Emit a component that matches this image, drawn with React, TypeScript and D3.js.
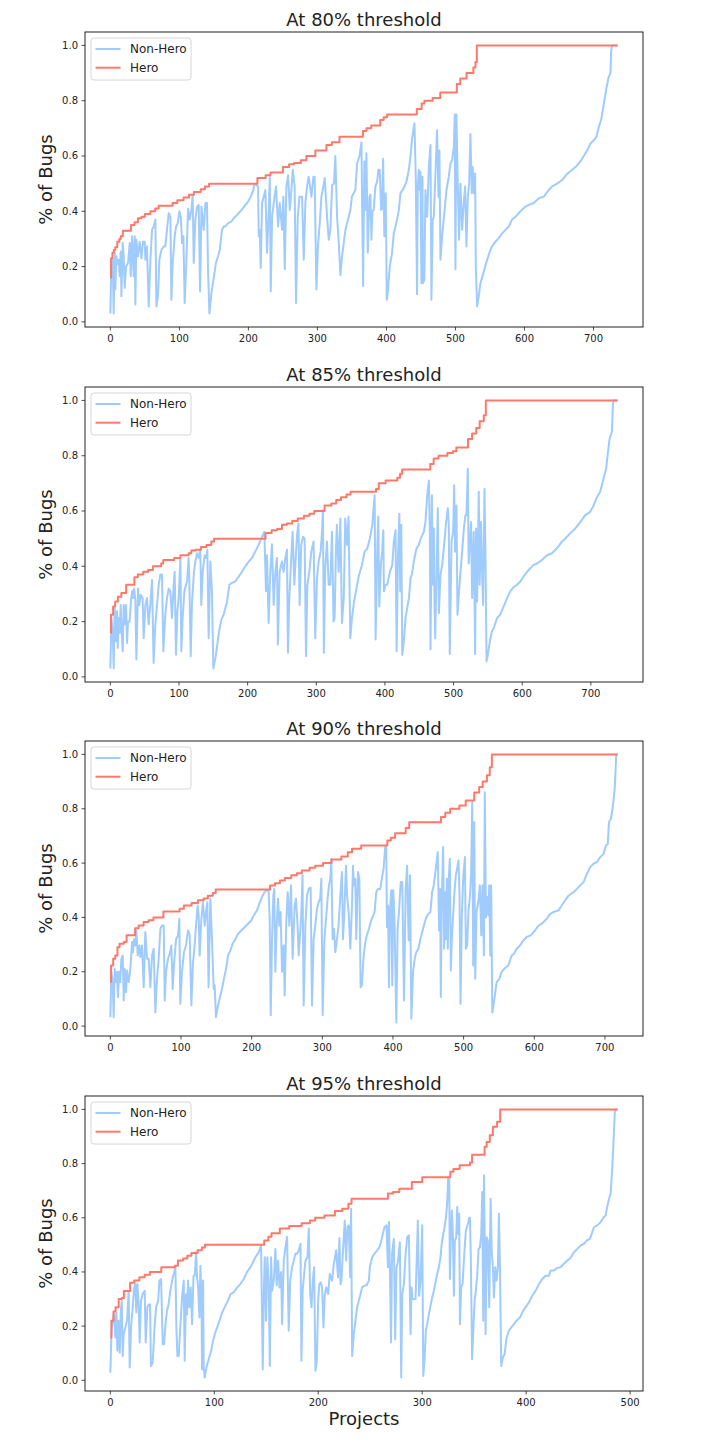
import React from 'react';
import * as d3 from 'd3';

type Pt = [number, number];

// ---- data (x = project index, y = share of bugs) ----
const thresholds = ['80%', '85%', '90%', '95%'];
const seriesNames = ['Non-Hero', 'Hero'];

const nonHero80: Pt[] = [
  [0,0.03],[1.4,0.21],[3.4,0.225],[4.8,0.03],[6.3,0.25],[7.2,0.117],[8.7,0.237],[10.1,0.21],[12,0.225],[13.5,0.165],
  [15,0.255],[16,0.093],[17.9,0.285],[19.3,0.237],[20.8,0.123],[22.7,0.2],[25.6,0.213],[28,0.285],[29.5,0.165],[31.4,0.31],
  [33.8,0.165],[35.3,0.31],[36.2,0.063],[37.7,0.297],[40,0.237],[42.5,0.29],[45,0.23],[47.3,0.29],[49.8,0.29],[50.7,0.225],
  [53,0.273],[55.6,0.056],[58,0.225],[60.4,0.333],[62.8,0.345],[65.2,0.37],[66.7,0.056],[69,0.093],[71,0.225],[74,0.26],
  [77.3,0.273],[79.7,0.273],[82,0.333],[84.5,0.393],[87,0.38],[88.4,0.08],[90.3,0.213],[93.2,0.31],[95.2,0.345],[97.6,0.357],
  [100,0.4],[102,0.38],[104,0.285],[105.8,0.31],[107.7,0.068],[110,0.213],[112.6,0.41],[115,0.37],[117.4,0.405],[119.3,0.46],
  [120.8,0.213],[123.2,0.37],[125.6,0.417],[128,0.423],[130,0.11],[132,0.417],[135.3,0.333],[137.7,0.43],[140,0.43],[141.5,0.19],
  [143.5,0.03],[146.4,0.105],[149.8,0.16],[153,0.213],[156,0.237],[158.5,0.26],[161.8,0.333],[164.3,0.345],[166.7,0.345],[170.5,0.357],
  [175.4,0.363],[178.7,0.375],[183.6,0.387],[188.4,0.4],[194.7,0.42],[199.5,0.435],[203.4,0.453],[206.8,0.474],[208.7,0.5],[214,0.49],
  [215,0.31],[216.4,0.333],[217.9,0.195],[219.8,0.43],[222.2,0.453],[224.6,0.477],[227,0.25],[229.5,0.405],[231,0.525],[232.4,0.11],
  [234.3,0.38],[236.7,0.43],[240,0.49],[243,0.345],[245.4,0.43],[248.8,0.333],[250.7,0.453],[252.7,0.19],[255,0.49],[257.5,0.53],
  [260,0.405],[262.3,0.477],[264.3,0.55],[267,0.49],[269,0.068],[271.5,0.38],[274,0.453],[277.8,0.453],[280.2,0.225],[282.6,0.43],
  [285,0.49],[287.4,0.525],[291.3,0.453],[294.2,0.525],[296,0.525],[298.5,0.117],[301,0.285],[303.4,0.357],[305.8,0.453],[307.7,0.477],
  [310.6,0.52],[314,0.38],[316.4,0.297],[318.8,0.333],[321.3,0.495],[324,0.5],[326,0.6],[328.5,0.38],[331,0.285],[333.3,0.17],
  [335.7,0.237],[340.6,0.333],[345.4,0.38],[347.8,0.405],[350,0.453],[355,0.477],[357.5,0.573],[361,0.6],[363.8,0.65],[366.2,0.13],
  [368,0.58],[369.6,0.405],[371,0.61],[373,0.25],[375.4,0.453],[376.8,0.46],[378.3,0.297],[379.7,0.4],[381.6,0.405],[384,0.49],
  [386.5,0.507],[388.4,0.55],[390.3,0.55],[392.3,0.405],[393.7,0.41],[395.2,0.59],[397,0.31],[399,0.465],[400.5,0.08],[402.4,0.117],
  [404.8,0.2],[408.2,0.25],[410.6,0.32],[413,0.345],[415.5,0.37],[418,0.405],[420.3,0.465],[425,0.483],[429,0.507],[432.4,0.55],
  [434.8,0.597],[437.2,0.663],[440.6,0.718],[442.5,0.525],[444.4,0.1],[445.4,0.49],[446.9,0.55],[448.3,0.477],[449.3,0.543],[450.7,0.14],
  [452.2,0.525],[453,0.14],[455,0.153],[456.5,0.477],[459,0.38],[461.4,0.56],[463.8,0.64],[465.2,0.08],[467.1,0.37],[468.6,0.38],
  [471,0.537],[473.4,0.693],[475.4,0.453],[476.8,0.62],[478.3,0.225],[480.7,0.31],[483,0.37],[487,0.477],[490.3,0.525],[492.8,0.573],
  [495.2,0.585],[497.6,0.633],[499,0.75],[500,0.19],[501.4,0.75],[503.4,0.5],[505.3,0.297],[507.2,0.5],[509.7,0.333],[512,0.43],
  [514,0.49],[516,0.273],[517.9,0.453],[519.8,0.5],[521.7,0.68],[523.7,0.465],[525,0.56],[527,0.465],[528.5,0.537],[529.5,0.2],
  [531.4,0.056],[533.8,0.093],[536.2,0.14],[538.6,0.16],[542,0.19],[545.9,0.225],[550.7,0.26],[553,0.273],[558,0.29],[562.8,0.303],
  [567.6,0.32],[572.5,0.333],[577.3,0.345],[582,0.37],[587,0.38],[594,0.4],[601.4,0.417],[606.3,0.423],[613.5,0.43],[620.8,0.447],
  [628,0.453],[635.3,0.477],[640,0.49],[647.3,0.5],[654.6,0.513],[661.8,0.535],[669,0.55],[674,0.56],[681,0.58],[686,0.6],
  [690.8,0.62],[695.6,0.645],[700.5,0.657],[704.3,0.67],[707.7,0.705],[711,0.73],[715,0.79],[718.8,0.845],[722,0.886],[724.6,0.9],
  [725.6,0.98],[727,1.0],[735,1.0],
];

const hero80: Pt[] = [
  [0,0.16],[1,0.23],[3,0.25],[5,0.26],[7,0.27],[10,0.29],[13,0.3],[15,0.31],[18,0.33],[30,0.35],[35,0.36],[40,0.375],
  [45,0.38],[50,0.39],[58,0.4],[65,0.41],[70,0.42],[90,0.43],[97,0.44],[106,0.45],[114,0.46],[121,0.47],[131,0.48],[137,0.49],
  [143,0.5],[213,0.52],[225,0.53],[232,0.54],[250,0.56],[259,0.57],[266,0.575],[276,0.585],[284,0.6],[297,0.62],[313,0.64],
  [321,0.65],[332,0.67],[366,0.69],[371,0.7],[378,0.71],[391,0.73],[396,0.74],[401,0.75],[444,0.77],[451,0.79],[455,0.8],
  [467,0.81],[478,0.83],[502,0.86],[507,0.88],[516,0.9],[526,0.92],[529,0.94],[531,1.0],[735,1.0],
];

const nonHero85: Pt[] = [
  [0,0.03],[1.5,0.213],[3.4,0.165],[4.9,0.03],[6.3,0.25],[8.3,0.13],[9.7,0.237],[10.7,0.105],[12,0.213],[13.6,0.16],
  [15,0.26],[16,0.19],[18,0.093],[19.4,0.26],[20.9,0.19],[22.8,0.26],[24.3,0.123],[25.7,0.2],[28,0.2],[30,0.273],
  [31.6,0.31],[33,0.285],[34.5,0.32],[36.4,0.28],[37.9,0.063],[40.3,0.32],[42.2,0.26],[44.2,0.297],[47,0.285],[48.5,0.14],
  [51,0.26],[53.4,0.285],[55.8,0.19],[58.3,0.267],[60.7,0.35],[63,0.05],[65.5,0.19],[68,0.26],[70.4,0.333],[72.8,0.37],
  [75.2,0.37],[77.2,0.093],[80,0.225],[82.5,0.285],[85,0.32],[87.4,0.31],[89.8,0.213],[92.2,0.333],[93.7,0.38],[95.6,0.08],
  [97.6,0.237],[99.5,0.285],[102,0.427],[103.4,0.093],[105.3,0.213],[107.8,0.31],[110.2,0.333],[111.7,0.345],[114,0.43],[115,0.357],
  [117,0.075],[119,0.273],[121.8,0.38],[123.8,0.417],[126.2,0.447],[128.6,0.43],[131,0.46],[132.5,0.26],[134.5,0.38],[137.4,0.44],
  [139.8,0.43],[141.3,0.46],[143.2,0.14],[145.6,0.417],[148,0.31],[150,0.03],[153,0.068],[155.8,0.117],[158.7,0.17],[161.7,0.207],
  [165,0.225],[170,0.273],[173.3,0.333],[177,0.34],[182,0.345],[187,0.363],[191.7,0.38],[196.6,0.4],[201.5,0.417],[206.3,0.43],
  [211,0.453],[216,0.477],[221,0.507],[224.3,0.525],[226.7,0.31],[228.2,0.44],[230.6,0.195],[233,0.38],[235.4,0.48],[237.9,0.26],
  [240.3,0.38],[242.7,0.43],[244,0.117],[246.6,0.38],[250,0.417],[252.4,0.38],[254.9,0.43],[257.3,0.46],[258.7,0.087],[260.7,0.285],
  [263,0.405],[265.5,0.525],[268,0.333],[270,0.43],[272,0.513],[274,0.555],[275.7,0.26],[278,0.477],[280.6,0.507],[283,0.5],
  [285,0.075],[287,0.333],[289.8,0.38],[292.7,0.453],[296,0.49],[298.5,0.14],[301,0.357],[303.4,0.417],[306.3,0.453],[308.3,0.525],
  [309.7,0.603],[311,0.087],[313,0.393],[315.5,0.49],[318,0.333],[320.4,0.333],[322.8,0.525],[325.2,0.2],[326.7,0.213],[328.6,0.453],
  [330,0.55],[332.5,0.38],[335,0.573],[337.4,0.195],[340,0.285],[342.2,0.573],[344.7,0.477],[347,0.58],[349.5,0.14],[352,0.213],
  [355,0.273],[357.8,0.31],[361.7,0.363],[366.5,0.405],[370.4,0.453],[374.3,0.465],[378,0.5],[381.6,0.55],[385,0.657],[386.4,0.135],
  [389,0.477],[390.3,0.58],[391.8,0.255],[394,0.405],[396,0.453],[397.6,0.53],[398.5,0.31],[401,0.333],[403.4,0.333],[407.3,0.38],
  [410.7,0.405],[413,0.49],[415.5,0.53],[417,0.093],[419,0.43],[421,0.59],[422.3,0.31],[423.8,0.55],[425.2,0.08],[427.6,0.13],
  [430,0.213],[432.5,0.25],[435,0.285],[437.3,0.357],[439.7,0.375],[442,0.417],[446,0.465],[449.4,0.477],[452,0.5],[456.7,0.525],
  [459,0.56],[461.6,0.657],[464,0.71],[465.4,0.525],[466.4,0.1],[468.4,0.657],[469.8,0.333],[471.3,0.537],[472.2,0.26],[473.2,0.14],
  [475,0.357],[477,0.61],[478.5,0.23],[481,0.37],[483.4,0.405],[485.8,0.465],[488.7,0.55],[491.6,0.61],[493,0.55],[494.5,0.083],
  [497,0.49],[499.4,0.525],[500.8,0.693],[502.3,0.453],[504.2,0.62],[505.7,0.225],[507.6,0.297],[510,0.38],[512.5,0.453],[515,0.537],
  [517.3,0.585],[518.8,0.585],[520.7,0.753],[522,0.41],[523.6,0.477],[525.5,0.56],[527,0.285],[529.4,0.525],[531.4,0.083],[532.8,0.537],
  [534.3,0.273],[536.7,0.67],[538,0.333],[540,0.56],[541.5,0.38],[543,0.26],[545,0.68],[546.4,0.453],[548,0.056],[549.8,0.08],
  [553.7,0.14],[556,0.165],[558.5,0.177],[563.4,0.213],[568,0.225],[573,0.255],[578,0.285],[582.7,0.31],[587.6,0.325],[592.4,0.333],
  [597.3,0.345],[602,0.363],[607,0.38],[611.8,0.393],[616.7,0.405],[621.5,0.41],[628.8,0.423],[636,0.44],[643.3,0.447],[650.6,0.465],
  [658,0.49],[662.7,0.5],[670,0.52],[677.3,0.537],[684.5,0.56],[691.8,0.585],[699,0.597],[704,0.62],[708.8,0.65],[713.6,0.67],
  [718.5,0.718],[722.3,0.753],[724.3,0.8],[727.2,0.86],[730.6,0.886],[732,0.98],[733,1.0],[739,1.0],
];

const hero85: Pt[] = [
  [0,0.16],[1,0.225],[4,0.255],[7,0.273],[11,0.29],[16,0.303],[23,0.333],[35,0.36],[40,0.37],[48,0.38],[55,0.387],[62,0.4],
  [74,0.41],[77,0.423],[93,0.43],[102,0.44],[114,0.447],[118,0.457],[124,0.46],[132,0.47],[140,0.477],[147,0.49],[151,0.5],
  [226,0.52],[235,0.53],[243,0.535],[250,0.55],[257,0.555],[265,0.564],[273,0.573],[282,0.583],[290,0.59],[297,0.6],[312,0.62],
  [322,0.627],[329,0.64],[336,0.65],[344,0.66],[350,0.67],[387,0.68],[391,0.7],[401,0.71],[418,0.72],[422,0.735],[425,0.75],
  [466,0.77],[471,0.79],[478,0.8],[491,0.81],[499,0.816],[504,0.83],[521,0.86],[527,0.88],[533,0.9],[538,0.925],[544,0.946],
  [547,1.0],[739,1.0],
];

const nonHero90: Pt[] = [
  [0,0.033],[1.4,0.2],[3.3,0.162],[4.7,0.033],[6.1,0.21],[8,0.162],[9.4,0.2],[10.8,0.107],[12.3,0.2],[14,0.162],
  [15.6,0.248],[17.5,0.26],[18.9,0.094],[20.3,0.21],[22.2,0.125],[23.6,0.205],[26,0.162],[28.3,0.21],[30.7,0.31],[32,0.272],
  [33.5,0.32],[35.4,0.297],[36.8,0.352],[38.7,0.26],[41,0.297],[42.5,0.254],[44.8,0.297],[47.2,0.143],[49.5,0.346],[51.9,0.248],
  [54.2,0.248],[56.6,0.143],[59,0.26],[61.3,0.285],[63.7,0.05],[66,0.174],[68.4,0.248],[70.8,0.358],[73,0.37],[75.5,0.37],
  [77,0.094],[78.8,0.2],[81.6,0.248],[84,0.266],[86.3,0.297],[88.2,0.137],[90,0.223],[93,0.32],[95.8,0.334],[97.6,0.395],
  [99,0.082],[101.4,0.2],[104.2,0.272],[107,0.297],[110,0.352],[112.3,0.334],[114.6,0.076],[117,0.236],[119.3,0.297],[121.2,0.37],
  [123.6,0.444],[125,0.407],[126.4,0.26],[128.8,0.395],[131,0.456],[133.5,0.37],[135.4,0.42],[137.3,0.456],[139,0.143],[141.5,0.469],
  [144,0.31],[146.2,0.137],[147.6,0.15],[149.5,0.033],[152.4,0.076],[155.2,0.107],[158,0.137],[160.8,0.174],[163.7,0.21],[166.5,0.26],
  [169.8,0.278],[173,0.303],[177,0.32],[180.7,0.34],[185.4,0.352],[190,0.364],[194.8,0.377],[199.5,0.389],[202.8,0.407],[207.5,0.426],
  [210.8,0.45],[214.6,0.475],[218,0.493],[221.7,0.5],[224,0.5],[225.5,0.395],[227,0.04],[228.8,0.32],[230.7,0.48],[232,0.505],
  [233.5,0.2],[235.4,0.37],[237.3,0.469],[239.2,0.37],[241,0.42],[243,0.2],[245.3,0.297],[246.7,0.113],[249,0.383],[251,0.493],
  [253.3,0.37],[255.7,0.518],[258,0.248],[260.8,0.444],[262.7,0.469],[265,0.37],[266.5,0.26],[269,0.358],[270.3,0.42],[272,0.555],
  [273.6,0.076],[276,0.37],[278.3,0.48],[280.7,0.505],[283.5,0.51],[285.4,0.076],[287.7,0.32],[290,0.37],[292.5,0.432],[294.8,0.456],
  [297,0.469],[298.6,0.542],[300.5,0.04],[302.8,0.31],[305.2,0.395],[307.5,0.469],[309.4,0.518],[311.3,0.542],[312.7,0.616],[314.6,0.32],
  [316.5,0.358],[318.4,0.272],[320.8,0.32],[323,0.37],[325.5,0.48],[327.8,0.567],[329.2,0.32],[331,0.407],[333.5,0.59],[335,0.48],
  [337.3,0.42],[339.6,0.285],[342,0.444],[343.4,0.59],[344.8,0.518],[346.7,0.542],[348.1,0.32],[350.5,0.567],[352.4,0.542],[354.2,0.143],
  [356,0.15],[358.5,0.26],[361,0.31],[363,0.334],[366,0.358],[369.2,0.389],[374,0.42],[376.3,0.493],[378.7,0.505],[382,0.505],
  [385,0.555],[386.7,0.58],[389,0.659],[390.5,0.659],[391.5,0.364],[393,0.444],[394.3,0.143],[395.7,0.42],[397.6,0.5],[399,0.15],
  [400.5,0.5],[402.4,0.37],[404.7,0.013],[406.6,0.358],[408.5,0.42],[411,0.53],[413.2,0.53],[415.6,0.094],[418,0.505],[420,0.59],
  [422.2,0.315],[424.1,0.555],[426,0.027],[428.4,0.2],[430.8,0.248],[433,0.272],[436,0.285],[438.8,0.32],[442.6,0.358],[446.4,0.395],
  [450,0.413],[453,0.42],[455.4,0.493],[457.7,0.518],[460.6,0.58],[463.4,0.64],[465.3,0.352],[466.7,0.505],[467.7,0.107],[469,0.456],
  [471,0.659],[472.4,0.285],[473.8,0.493],[474.8,0.32],[476.2,0.542],[477.6,0.285],[479,0.542],[480.5,0.616],[481.9,0.205],[483.3,0.32],
  [485.2,0.407],[487,0.493],[489,0.555],[490.8,0.58],[492.8,0.61],[494.2,0.48],[495.6,0.082],[497.5,0.407],[499.4,0.542],[501.8,0.622],
  [503.2,0.285],[505,0.297],[507,0.432],[508.8,0.469],[510.7,0.567],[512.2,0.825],[513.6,0.223],[515,0.75],[516.4,0.174],[518.3,0.42],
  [520.7,0.456],[523,0.518],[525,0.334],[526.8,0.518],[528.7,0.26],[530,0.861],[531.6,0.4],[533.5,0.475],[535,0.407],[536.3,0.518],
  [537.7,0.26],[539,0.518],[540.6,0.05],[543,0.088],[546.7,0.162],[550.5,0.174],[553.8,0.2],[557,0.21],[563.3,0.223],[568,0.26],
  [571.3,0.266],[575,0.285],[579.8,0.297],[584.6,0.315],[589.3,0.328],[595,0.334],[601,0.352],[605.9,0.37],[610.6,0.377],[617.7,0.395],
  [622.4,0.413],[627.2,0.42],[634.3,0.426],[639,0.444],[643.7,0.463],[648.5,0.48],[655.6,0.493],[660.3,0.505],[665,0.518],[669.8,0.53],
  [674.5,0.56],[679.2,0.585],[684,0.598],[688.7,0.604],[693.4,0.622],[698,0.634],[701.5,0.665],[704,0.67],[705.7,0.75],[708.6,0.763],
  [711.4,0.812],[713.8,0.873],[715.2,0.947],[716,1.0],[718,1.0],
];

const hero90: Pt[] = [
  [0,0.162],[1,0.223],[4,0.248],[7,0.26],[10,0.29],[13,0.303],[19,0.31],[23,0.334],[35,0.36],[40,0.37],[47,0.383],[54,0.39],
  [61,0.4],[75,0.422],[98,0.432],[104,0.444],[115,0.453],[124,0.463],[132,0.47],[138,0.48],[145,0.49],[149,0.503],[226,0.518],
  [233,0.526],[240,0.536],[247,0.545],[256,0.555],[264,0.563],[271,0.573],[282,0.583],[290,0.59],[301,0.6],[313,0.613],[327,0.624],
  [336,0.64],[342,0.653],[355,0.665],[392,0.683],[397,0.693],[403,0.71],[418,0.729],[423,0.75],[468,0.77],[474,0.785],[481,0.8],
  [494,0.812],[503,0.83],[515,0.86],[522,0.88],[527,0.9],[533,0.923],[537,0.953],[540,1.0],[718,1.0],
];

const nonHero95: Pt[] = [
  [0,0.028],[1,0.17],[2.2,0.22],[3.5,0.244],[4.8,0.158],[5.8,0.25],[6.7,0.109],[7.7,0.22],[9,0.102],[10,0.257],
  [11,0.294],[11.9,0.09],[12.8,0.17],[14.4,0.195],[16,0.22],[17.6,0.33],[18.6,0.047],[19.9,0.195],[21.5,0.27],[23,0.343],
  [24,0.355],[25,0.25],[26,0.355],[27.3,0.27],[28.2,0.14],[29.5,0.294],[31,0.318],[33,0.33],[34,0.14],[35.6,0.27],
  [37,0.28],[38.2,0.28],[39,0.053],[40.7,0.065],[42.3,0.183],[44,0.27],[46,0.294],[47.2,0.368],[48.8,0.374],[50.4,0.133],
  [51.7,0.133],[53,0.207],[54.5,0.257],[56,0.28],[57.7,0.33],[59.4,0.368],[61,0.393],[62.6,0.417],[63.5,0.195],[64.5,0.09],
  [65.8,0.09],[67.4,0.207],[69,0.306],[70.6,0.368],[71.5,0.072],[72.8,0.318],[73.8,0.244],[74.7,0.368],[76,0.27],[77.3,0.343],
  [78.6,0.207],[80,0.386],[81.2,0.386],[82.5,0.473],[83.4,0.38],[84.4,0.343],[85.7,0.232],[86.6,0.423],[87.6,0.318],[88.2,0.04],
  [89.2,0.368],[89.8,0.047],[90.8,0.01],[92.4,0.047],[94.6,0.078],[97,0.109],[98.5,0.14],[100.4,0.17],[102.7,0.195],[105,0.22],
  [107.5,0.25],[110,0.27],[113.2,0.294],[115.5,0.318],[118.7,0.325],[122,0.343],[125,0.355],[128.3,0.374],[131.5,0.4],[134.7,0.417],
  [138,0.442],[140.2,0.458],[142.8,0.473],[145,0.498],[146.6,0.04],[147.6,0.318],[148.5,0.454],[149.8,0.22],[151,0.454],[152.4,0.35],
  [153.4,0.053],[154.6,0.454],[155.6,0.33],[157.2,0.368],[158.8,0.485],[160,0.35],[161.4,0.442],[162.7,0.343],[164.3,0.4],[165.2,0.207],
  [166.8,0.442],[168.4,0.49],[170,0.53],[171.6,0.183],[173,0.368],[174.8,0.417],[176.5,0.442],[178,0.467],[179.7,0.467],[181.3,0.48],
  [182.9,0.504],[183.8,0.072],[185,0.33],[186.4,0.393],[187.7,0.442],[189.6,0.454],[190.9,0.56],[192.2,0.318],[193.5,0.27],[194.7,0.368],
  [196,0.417],[197.3,0.035],[198.6,0.072],[199.9,0.294],[201,0.355],[202.4,0.362],[203.7,0.343],[205,0.195],[206.3,0.318],[207.6,0.343],
  [209.5,0.318],[211.1,0.393],[213.3,0.368],[215,0.43],[217.2,0.48],[219,0.38],[220.4,0.525],[221.4,0.355],[222.3,0.368],[223.6,0.467],
  [225.5,0.59],[226.8,0.442],[228,0.565],[229.4,0.572],[230.7,0.38],[231.6,0.633],[232.6,0.09],[234.2,0.17],[235.8,0.22],[237.4,0.27],
  [239,0.294],[240.6,0.318],[242.2,0.343],[244.8,0.35],[246.4,0.35],[248.7,0.368],[249.6,0.417],[251.9,0.454],[254,0.467],[256.7,0.48],
  [258.6,0.49],[259.9,0.504],[261.8,0.535],[263.7,0.565],[265.7,0.572],[267,0.417],[268,0.584],[268.9,0.41],[270,0.14],[271,0.467],
  [272.7,0.522],[274,0.152],[275.3,0.417],[276.6,0.436],[278.5,0.51],[279.8,0.01],[280.8,0.318],[282.4,0.355],[284,0.467],[285.6,0.528],
  [287.2,0.535],[288.8,0.17],[289.7,0.343],[290.7,0.3],[293.6,0.3],[295.8,0.59],[297,0.312],[298.4,0.368],[300,0.572],[301,0.016],
  [302.2,0.072],[303.5,0.183],[304.8,0.207],[306.4,0.244],[308,0.275],[309.6,0.306],[311.2,0.33],[312.8,0.362],[314.4,0.393],[316,0.417],
  [317.6,0.454],[318.6,0.498],[320.2,0.54],[321.5,0.565],[322.8,0.6],[324,0.652],[325,0.75],[326,0.75],[326.6,0.374],[327.6,0.516],
  [328.5,0.627],[329.5,0.54],[330.5,0.312],[331.4,0.516],[332.7,0.528],[333.7,0.64],[334.6,0.54],[335.6,0.615],[336.3,0.207],[337.5,0.343],
  [338.8,0.355],[340.7,0.48],[342,0.553],[344,0.578],[345.2,0.6],[345.9,0.6],[346.8,0.442],[348,0.078],[349,0.17],[350.4,0.294],
  [351.6,0.33],[353,0.393],[354.2,0.485],[355.5,0.49],[356.8,0.54],[357.7,0.695],[358.7,0.22],[359.4,0.757],[360,0.565],[361,0.17],
  [362,0.528],[363.2,0.516],[364.5,0.27],[365.8,0.67],[367,0.467],[368,0.417],[369,0.306],[370.3,0.417],[371.5,0.368],[372.8,0.417],
  [373.8,0.615],[374.8,0.417],[376,0.053],[377.6,0.084],[379.2,0.096],[381.2,0.158],[383.4,0.183],[385.7,0.195],[388.2,0.207],[390.8,0.22],
  [394,0.232],[397.2,0.257],[399.5,0.27],[402.7,0.288],[405.9,0.312],[409,0.33],[412.3,0.355],[415.5,0.374],[418.7,0.386],[422,0.386],
  [423.5,0.405],[426.7,0.405],[430,0.415],[433,0.417],[436.3,0.43],[439.6,0.442],[442.8,0.452],[446,0.473],[449.2,0.485],[452.4,0.498],
  [455.6,0.504],[458.2,0.516],[461.4,0.522],[465.2,0.565],[468.4,0.572],[471.6,0.584],[474.2,0.6],[476.4,0.609],[478,0.64],[479.7,0.67],
  [481.3,0.69],[482.9,0.788],[483.8,0.862],[484.8,0.948],[485.4,1.0],[488,1.0],
];

const hero95: Pt[] = [
  [0,0.158],[1,0.22],[3,0.254],[5,0.27],[8,0.3],[11,0.304],[13,0.33],[19,0.36],[23,0.368],[28,0.38],[33,0.39],[38,0.4],
  [49,0.417],[62,0.423],[65,0.442],[70,0.45],[74,0.46],[78,0.47],[84,0.48],[88,0.49],[91,0.5],[148,0.516],[152,0.53],
  [155,0.543],[163,0.56],[172,0.57],[184,0.58],[192,0.59],[197,0.6],[206,0.608],[216,0.625],[223,0.633],[229,0.652],[232,0.67],
  [267,0.69],[272,0.695],[278,0.707],[290,0.732],[300,0.75],[327,0.77],[330,0.78],[336,0.794],[346,0.804],[348,0.833],
  [360,0.862],[362,0.88],[365,0.905],[368,0.936],[372,0.954],[375,1.0],[488,1.0],
];

const nonHeroSeries = [nonHero80, nonHero85, nonHero90, nonHero95];
const heroSeries = [hero80, hero85, hero90, hero95];

// ---- layout ----
const W = 712;
const H = 1452;
const LEFT = 85;
const RIGHT = 643;
const TOPS = [32, 387, 741, 1096];
const PLOT_H = 295;
const BLUE = '#a0cbfd';
const RED = '#ff786a';
const INK = '#222';
const FONT = 'DejaVu Sans, sans-serif';

const fmt = d3.format('.1f');

function Panel({ idx }: { idx: number }) {
  const top = TOPS[idx];
  const bottom = top + PLOT_H;
  const nonHero = nonHeroSeries[idx];
  const hero = heroSeries[idx];
  const all = nonHero.concat(hero);

  const [x0, x1] = d3.extent(all, d => d[0]) as [number, number];
  const [y0, y1] = d3.extent(all, d => d[1]) as [number, number];
  const xp = (x1 - x0) * 0.05;
  const yp = (y1 - y0) * 0.05;

  const x = d3.scaleLinear().domain([x0 - xp, x1 + xp]).range([LEFT, RIGHT]);
  const y = d3.scaleLinear().domain([y0 - yp, y1 + yp]).range([bottom, top]);

  const line = d3.line<Pt>().x(d => x(d[0])).y(d => y(d[1]));
  const step = d3.line<Pt>().x(d => x(d[0])).y(d => y(d[1])).curve(d3.curveStepAfter);

  const xTicks = x.ticks(6);
  const yTicks = y.ticks(5);

  const legendColors = [BLUE, RED];

  return (
    <g>
      <text x={(LEFT + RIGHT) / 2} y={top - 6} textAnchor="middle" fontSize={18} fill={INK}>
        {`At ${thresholds[idx]} threshold`}
      </text>

      <path d={line(nonHero) || ''} fill="none" stroke={BLUE} strokeWidth={2} strokeLinejoin="round" />
      <path d={step(hero) || ''} fill="none" stroke={RED} strokeWidth={2} strokeLinejoin="round" />

      <rect x={LEFT} y={top} width={RIGHT - LEFT} height={PLOT_H} fill="none" stroke={INK} strokeWidth={1} />

      {xTicks.map(t => (
        <g key={`x${t}`} transform={`translate(${x(t)},${bottom})`}>
          <line y2={3.5} stroke={INK} strokeWidth={0.8} />
          <text y={7} dy="0.75em" textAnchor="middle" fontSize={10} fill={INK}>{t}</text>
        </g>
      ))}
      {yTicks.map(t => (
        <g key={`y${t}`} transform={`translate(${LEFT},${y(t)})`}>
          <line x2={-3.5} stroke={INK} strokeWidth={0.8} />
          <text x={-7} dy="0.35em" textAnchor="end" fontSize={10} fill={INK}>{fmt(t)}</text>
        </g>
      ))}

      <text
        transform={`translate(52,${(top + bottom) / 2}) rotate(-90)`}
        textAnchor="middle"
        fontSize={18}
        fill={INK}
      >
        % of Bugs
      </text>

      <g transform={`translate(${LEFT + 6},${top + 6})`}>
        <rect width={100} height={42} rx={3} fill="#fff" fillOpacity={0.8} stroke="#d6d6d6" strokeWidth={1} />
        {seriesNames.map((name, i) => (
          <g key={name} transform={`translate(0,${11 + i * 18.7})`}>
            <line x1={4.5} x2={29.5} stroke={legendColors[i]} strokeWidth={2} />
            <text x={39} dy="0.36em" fontSize={12} fill={INK}>{name}</text>
          </g>
        ))}
      </g>

      {idx === 3 && (
        <text x={(LEFT + RIGHT) / 2} y={bottom + 34} textAnchor="middle" fontSize={18} fill={INK}>
          Projects
        </text>
      )}
    </g>
  );
}

export default function App() {
  return (
    <svg
      width={W}
      height={H}
      viewBox={`0 0 ${W} ${H}`}
      style={{ position: 'absolute', left: 0, top: 0, background: '#fff' }}
      fontFamily={FONT}
    >
      <rect width={W} height={H} fill="#fff" />
      {thresholds.map((_, i) => (
        <Panel key={i} idx={i} />
      ))}
    </svg>
  );
}
